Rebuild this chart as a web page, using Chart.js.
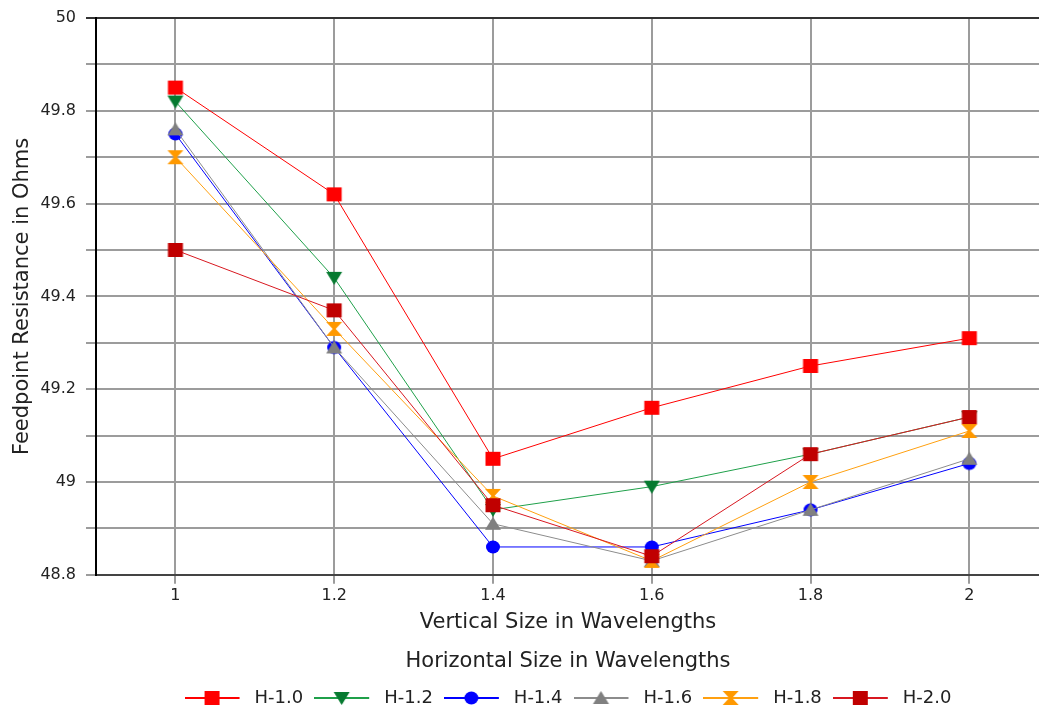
<!DOCTYPE html>
<html lang="en">
<head>
    <meta charset="UTF-8">
    <title>Feedpoint Resistance</title>
    <script src="https://cdn.jsdelivr.net/npm/chart.js"></script>
    <style>
        body {
            margin: 0;
            padding: 0;
            background-color: #fff;
            overflow: hidden;
        }
    </style>
</head>
<body>
    <!-- a bit wider than the window: the plot area runs off the right edge like the original -->
    <canvas id="resChart" width="1045" height="711"></canvas>

    <script>
        // data
        const vertSizes = [1, 1.2, 1.4, 1.6, 1.8, 2];
        const seriesNames = ['H-1.0', 'H-1.2', 'H-1.4', 'H-1.6', 'H-1.8', 'H-2.0'];
        const h10 = [49.85, 49.62, 49.05, 49.16, 49.25, 49.31];
        const h12 = [49.82, 49.44, 48.94, 48.99, 49.06, 49.14];
        const h14 = [49.75, 49.29, 48.86, 48.86, 48.94, 49.04];
        const h16 = [49.76, 49.29, 48.91, 48.83, 48.94, 49.05];
        const h18 = [49.70, 49.33, 48.97, 48.83, 49.00, 49.11];
        const h20 = [49.50, 49.37, 48.95, 48.84, 49.06, 49.14];
        const allSeries = [h10, h12, h14, h16, h18, h20];

        const lineColors = ['#ff0000', '#1fa04a', '#0000ff', '#8c8c8c', '#ffa010', '#d81820'];
        const markColors = ['#ff0000', '#067a30', '#0000ff', '#808080', '#ff9900', '#c00000'];
        const shapes = ['square', 'down', 'circle', 'up', 'hourglass', 'square'];
        const FONT = "'DejaVu Sans', sans-serif";

        function drawShape(ctx, shape, color, cx, cy) {
            ctx.fillStyle = color;
            ctx.beginPath();
            if (shape === 'square') {
                ctx.rect(cx - 7.5, cy - 7, 15, 14);
            } else if (shape === 'down') {
                ctx.moveTo(cx - 8, cy - 6);
                ctx.lineTo(cx + 8, cy - 6);
                ctx.lineTo(cx, cy + 7);
                ctx.closePath();
            } else if (shape === 'up') {
                ctx.moveTo(cx - 8, cy + 6);
                ctx.lineTo(cx + 8, cy + 6);
                ctx.lineTo(cx, cy - 7);
                ctx.closePath();
            } else if (shape === 'circle') {
                ctx.ellipse(cx, cy, 7, 6.5, 0, 0, Math.PI * 2);
            } else if (shape === 'hourglass') {
                ctx.moveTo(cx - 8, cy - 7);
                ctx.lineTo(cx + 8, cy - 7);
                ctx.lineTo(cx + 1.5, cy);
                ctx.lineTo(cx + 8, cy + 7);
                ctx.lineTo(cx - 8, cy + 7);
                ctx.lineTo(cx - 1.5, cy);
                ctx.closePath();
            }
            ctx.fill();
        }

        function makeMarker(i) {
            const c = document.createElement('canvas');
            c.width = 18;
            c.height = 18;
            drawShape(c.getContext('2d'), shapes[i], markColors[i], 9, 9);
            return c;
        }

        // legend icon: short line with the marker in the middle
        function makeLegendIcon(i) {
            const c = document.createElement('canvas');
            c.width = 61;
            c.height = 18;
            const ctx = c.getContext('2d');
            ctx.strokeStyle = lineColors[i];
            ctx.lineWidth = 2;
            ctx.beginPath();
            ctx.moveTo(0, 9);
            ctx.lineTo(55, 9);
            ctx.stroke();
            drawShape(ctx, shapes[i], markColors[i], 27.5, 9);
            return c;
        }

        const legendIcons = allSeries.map((s, i) => makeLegendIcon(i));

        const datasets = allSeries.map((vals, i) => ({
            label: seriesNames[i],
            data: vals.map((v, k) => ({ x: vertSizes[k], y: v })),
            borderColor: lineColors[i],
            backgroundColor: markColors[i],
            borderWidth: 1,
            tension: 0,
            pointStyle: makeMarker(i),
            order: allSeries.length - i
        }));

        new Chart(document.getElementById('resChart'), {
            type: 'line',
            data: { datasets: datasets },
            options: {
                responsive: false,
                animation: false,
                layout: { padding: { top: 18, right: 0, left: 0, bottom: -6 } },
                plugins: {
                    tooltip: { enabled: false },
                    legend: {
                        position: 'bottom',
                        fullSize: false,
                        title: {
                            display: true,
                            text: 'Horizontal Size in Wavelengths',
                            color: '#222',
                            font: { family: FONT, size: 21 },
                            padding: { top: 0, bottom: 2 }
                        },
                        labels: {
                            usePointStyle: true,
                            pointStyleWidth: 61,
                            boxHeight: 18,
                            padding: 11,
                            color: '#222',
                            font: { family: FONT, size: 18 },
                            generateLabels: () => seriesNames.map((name, i) => ({
                                text: name,
                                pointStyle: legendIcons[i],
                                fillStyle: markColors[i],
                                strokeStyle: lineColors[i],
                                lineWidth: 0,
                                hidden: false,
                                datasetIndex: i
                            }))
                        }
                    }
                },
                scales: {
                    x: {
                        type: 'linear',
                        min: 0.9,
                        max: 2.089,
                        afterBuildTicks: (scale) => {
                            scale.ticks = vertSizes.map(v => ({ value: v }));
                        },
                        afterFit: (scale) => {
                            scale.height = 76;
                        },
                        ticks: {
                            color: '#222',
                            padding: 2,
                            maxRotation: 0,
                            font: { family: FONT, size: 16 },
                            callback: (v) => String(v)
                        },
                        grid: {
                            color: '#9c9c9c',
                            lineWidth: 2,
                            tickLength: 9
                        },
                        border: { color: '#444', width: 2 },
                        title: {
                            display: true,
                            text: 'Vertical Size in Wavelengths',
                            color: '#222',
                            font: { family: FONT, size: 21 },
                            padding: { top: 0, bottom: 16 }
                        }
                    },
                    y: {
                        min: 48.8,
                        max: 50,
                        afterFit: (scale) => {
                            scale.width = 96;
                            scale.paddingTop = 0;
                            scale.paddingBottom = 0;
                        },
                        ticks: {
                            stepSize: 0.1,
                            color: '#222',
                            padding: 10,
                            font: { family: FONT, size: 16 },
                            callback: (v) => {
                                const t = Math.round(v * 10);
                                return t % 2 === 0 ? String(t / 10) : '';
                            }
                        },
                        grid: {
                            color: (ctx) => (ctx.tick && Math.abs(ctx.tick.value - 50) < 1e-6) ? '#333' : '#9c9c9c',
                            lineWidth: 2,
                            tickLength: 10
                        },
                        border: { color: '#000', width: 2 },
                        title: {
                            display: true,
                            text: 'Feedpoint Resistance in Ohms',
                            color: '#222',
                            font: { family: FONT, size: 21 },
                            padding: { top: 10, bottom: 0 }
                        }
                    }
                }
            }
        });
    </script>
</body>
</html>
